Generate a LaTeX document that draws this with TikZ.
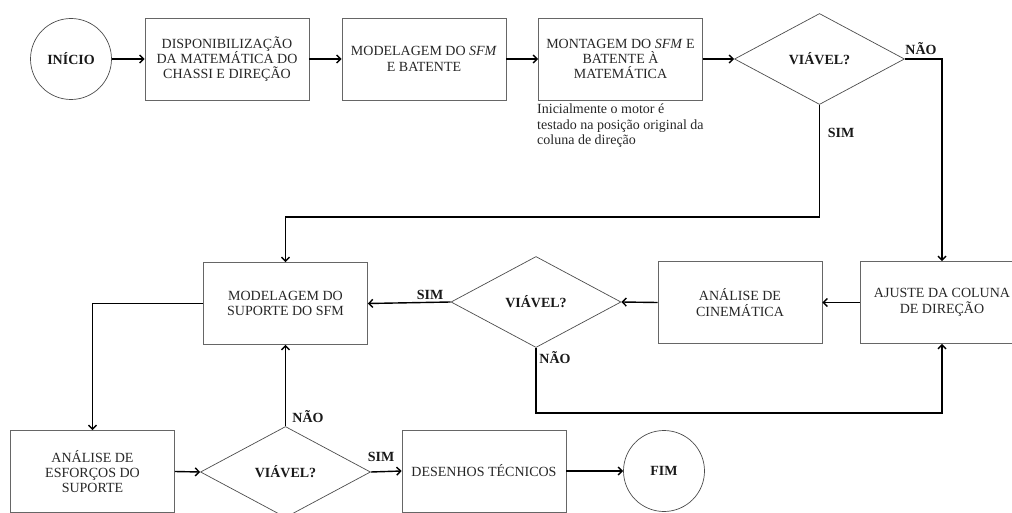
\documentclass[tikz,border=0pt]{standalone}
\usepackage{fontspec}
\setmainfont{Liberation Serif}
\usetikzlibrary{shapes.geometric,arrows.meta}

\begin{document}
\begin{tikzpicture}[x=1pt,y=-1pt,
  boxtext/.style={font=\fontsize{14}{15.3}\selectfont},
  proc/.style={draw=black!60, line width=0.7pt, minimum width=164pt,
    minimum height=82pt, align=center, text=black!85, inner sep=0pt, boxtext},
  term/.style={circle, draw=black!70, line width=0.7pt, minimum size=81pt,
    inner sep=0pt, text=black!90, font=\bfseries\fontsize{14}{15}\selectfont},
  decis/.style={diamond, draw=black!70, line width=0.7pt, aspect=1.9,
    minimum width=170pt, minimum height=91pt, inner sep=0pt, text=black!90,
    font=\bfseries\fontsize{14}{15}\selectfont},
  flow/.style={line width=1.4pt, -{Straight Barb[length=4pt,width=8pt]}},
  lbl/.style={inner sep=1pt, text=black!90, font=\bfseries\fontsize{14}{15}\selectfont}
]
\useasboundingbox (0,0) rectangle (1012,513);

% first row
\node[term] (inicio) at (71,59) {INÍCIO};
\node[proc] (b1) at (227,59) {DISPONIBILIZAÇÃO\\DA MATEMÁTICA DO\\CHASSI E DIREÇÃO};
\node[proc] (b2) at (424,59) {MODELAGEM DO \textit{SFM}\\E BATENTE};
\node[proc] (b3) at (620.5,59) {MONTAGEM DO \textit{SFM} E\\BATENTE À\\MATEMÁTICA};
\node[decis] (d1) at (819.5,59) {VIÁVEL?};
\node[anchor=north west, inner sep=0pt, align=left, text=black!85, boxtext]
  (nota) at (537,104) {Inicialmente o motor é\\testado na posição original da\\coluna de direção};

% second row
\node[proc] (ajuste) at (942,302.5) {AJUSTE DA COLUNA\\DE DIREÇÃO};
\node[proc] (cin) at (740,302.5) {ANÁLISE DE\\CINEMÁTICA};
\node[decis] (d2) at (536,302) {VIÁVEL?};
\node[proc] (modsup) at (285.5,303.5) {MODELAGEM DO\\SUPORTE DO SFM};

% third row
\node[proc] (esf) at (92.5,471.5) {ANÁLISE DE\\ESFORÇOS DO\\SUPORTE};
\node[decis] (d3) at (285.5,472) {VIÁVEL?};
\node[proc] (des) at (484,471) {DESENHOS TÉCNICOS};
\node[term] (fim) at (664,471) {FIM};

% bends of the long connectors
\coordinate (j1) at (819.5,217);
\coordinate (j2) at (536,413);

% connectors
\draw[flow] (inicio.east) -- (b1.west);
\draw[flow] (b1.east) -- (b2.west);
\draw[flow] (b2.east) -- (b3.west);
\draw[flow] (b3.east) -- (d1.west);
\draw[flow] (d1.east) -| (ajuste.north);
\draw[flow] (d1.south) -- (j1) -| (modsup.north);
\draw[flow] (ajuste.west) -- (cin.east);
\draw[flow] (cin.west) -- (d2.east);
\draw[flow] (d2.west) -- (modsup.east);
\draw[flow] (d2.south) -- (j2) -| (ajuste.south);
\draw[flow] (modsup.west) -| (esf.north);
\draw[flow] (esf.east) -- (d3.west);
\draw[flow] (d3.east) -- (des.west);
\draw[flow] (des.east) -- (fim.west);
\draw[flow] (d3.north) -- (modsup.south);

% branch labels
\node[lbl] (n1) at (921,49) {NÃO};
\node[lbl] (s1) at (841,133) {SIM};
\node[lbl] (s2) at (430,295) {SIM};
\node[lbl] (n2) at (555,358) {NÃO};
\node[lbl] (n3) at (308,417) {NÃO};
\node[lbl] (s3) at (381,457) {SIM};
\end{tikzpicture}
\end{document}
